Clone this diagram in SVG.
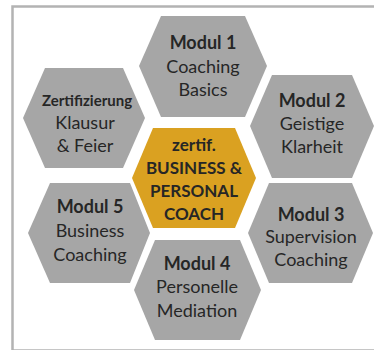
<svg xmlns="http://www.w3.org/2000/svg" width="374" height="350" viewBox="0 0 374 350">
  <style>
    .hex { fill: #a6a6a6; }
    .core { fill: #daa121; }
    text { font-family: Lato, "Open Sans", "Liberation Sans", sans-serif; fill: #262626; text-anchor: middle; }
    .b { font-weight: bold; font-size: 18px; }
    .c { font-weight: bold; font-size: 17px; }
    .r { font-size: 18px; }
    .bs { font-weight: bold; font-size: 15px; }
  </style>
  <rect x="12.5" y="6.5" width="370" height="344" fill="#ffffff" stroke="#b3b3b3" stroke-width="2.5"/>
  <g id="connectors"></g>
  <g id="modul1">
    <polygon class="hex" points="161,16 245,16 267,66 245,117 161,117 139,66"/>
    <text class="b" x="203" y="49">Modul 1</text>
    <text class="r" x="203" y="73">Coaching</text>
    <text class="r" x="203" y="96">Basics</text>
  </g>
  <g id="modul2">
    <polygon class="hex" points="272,75 352,75 374,126 352,178 272,178 250,126"/>
    <text class="b" x="312" y="107">Modul 2</text>
    <text class="r" x="312" y="130">Geistige</text>
    <text class="r" x="312" y="153">Klarheit</text>
  </g>
  <g id="zertifizierung">
    <polygon class="hex" points="45,68 123,68 145,118 123,168 45,168 23,118"/>
    <text class="bs" x="87" y="106">Zertifizierung</text>
    <text class="r" x="85" y="129">Klausur</text>
    <text class="r" x="85" y="152">&amp; Feier</text>
  </g>
  <g id="center">
    <polygon class="core" points="153,128 235,128 256,178 235,228 153,228 132,178"/>
    <text class="c" x="194" y="151">zertif.</text>
    <text class="c" x="194" y="174">BUSINESS &amp;</text>
    <text class="c" x="194" y="197">PERSONAL</text>
    <text class="c" x="194" y="220">COACH</text>
  </g>
  <g id="modul5">
    <polygon class="hex" points="50,183 130,183 150,233 130,283 50,283 28,233"/>
    <text class="b" x="90" y="213">Modul 5</text>
    <text class="r" x="90" y="237">Business</text>
    <text class="r" x="90" y="261">Coaching</text>
  </g>
  <g id="modul3">
    <polygon class="hex" points="269,183 352,183 373,233 352,283 269,283 248,233"/>
    <text class="b" x="311" y="221">Modul 3</text>
    <text class="r" x="311" y="243">Supervision</text>
    <text class="r" x="311" y="266">Coaching</text>
  </g>
  <g id="modul4">
    <polygon class="hex" points="155,240 240,240 261,290 240,340 155,340 134,290"/>
    <text class="b" x="197" y="270">Modul 4</text>
    <text class="r" x="197" y="293">Personelle</text>
    <text class="r" x="197" y="317">Mediation</text>
  </g>
</svg>
